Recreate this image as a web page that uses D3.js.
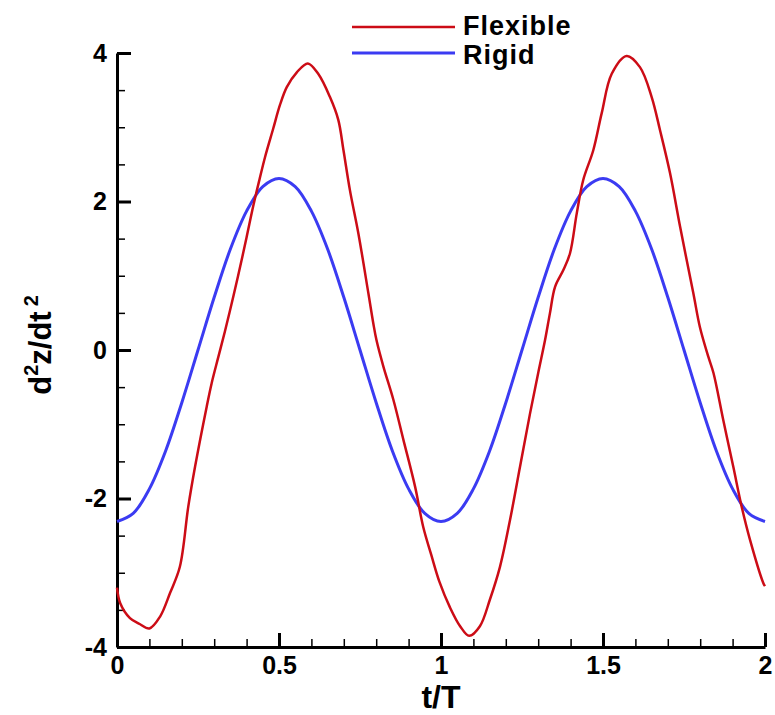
<!DOCTYPE html>
<html>
<head>
<meta charset="utf-8">
<script src="https://cdn.jsdelivr.net/npm/d3@7"></script>
<style>
  body { margin: 0; background: #fff; }
  text { font-family: "Liberation Sans", Arial, sans-serif; font-weight: bold; fill: #000; }
</style>
</head>
<body>
<svg id="chart" width="775" height="715"></svg>
<script>
// values: [t/T, d2z/dt2]
const flexible = [
  [0.000, -3.20], [0.010, -3.41], [0.040, -3.61], [0.070, -3.69], [0.100, -3.75],
  [0.133, -3.59], [0.164, -3.27], [0.194, -2.92], [0.220, -2.11], [0.241, -1.57],
  [0.277, -0.76], [0.292, -0.45], [0.313, -0.09], [0.333, 0.25], [0.359, 0.72],
  [0.380, 1.12], [0.400, 1.52], [0.421, 1.95], [0.440, 2.30], [0.457, 2.60],
  [0.482, 2.98], [0.503, 3.30], [0.524, 3.54], [0.555, 3.74], [0.589, 3.86],
  [0.621, 3.72], [0.657, 3.41], [0.683, 3.10], [0.699, 2.69], [0.719, 2.15],
  [0.745, 1.57], [0.776, 0.76], [0.791, 0.36], [0.801, 0.13], [0.822, -0.22],
  [0.853, -0.67], [0.884, -1.21], [0.920, -1.84], [0.945, -2.38], [0.970, -2.76],
  [0.995, -3.12], [1.028, -3.47], [1.059, -3.72], [1.087, -3.85], [1.120, -3.72],
  [1.151, -3.36], [1.182, -2.92], [1.213, -2.29], [1.244, -1.57], [1.275, -0.85],
  [1.300, -0.31], [1.321, 0.13], [1.336, 0.49], [1.352, 0.85], [1.378, 1.08],
  [1.398, 1.30], [1.419, 1.84], [1.439, 2.29], [1.470, 2.69], [1.496, 3.19],
  [1.527, 3.72], [1.573, 3.96], [1.614, 3.81], [1.650, 3.41], [1.676, 2.96],
  [1.707, 2.38], [1.738, 1.66], [1.779, 0.76], [1.799, 0.31], [1.825, -0.09],
  [1.841, -0.31], [1.871, -0.94], [1.902, -1.57], [1.928, -2.11], [1.954, -2.56],
  [1.995, -3.14], [2.000, -3.18]
];

const rigid = [
  [0.00, -2.31], [0.05, -2.20], [0.10, -1.87], [0.15, -1.36], [0.20, -0.71],
  [0.25, 0.00], [0.30, 0.71], [0.35, 1.36], [0.40, 1.87], [0.45, 2.20],
  [0.50, 2.31], [0.55, 2.20], [0.60, 1.87], [0.65, 1.36], [0.70, 0.71],
  [0.75, 0.00], [0.80, -0.71], [0.85, -1.36], [0.90, -1.87], [0.95, -2.20],
  [1.00, -2.31], [1.05, -2.20], [1.10, -1.87], [1.15, -1.36], [1.20, -0.71],
  [1.25, 0.00], [1.30, 0.71], [1.35, 1.36], [1.40, 1.87], [1.45, 2.20],
  [1.50, 2.31], [1.55, 2.20], [1.60, 1.87], [1.65, 1.36], [1.70, 0.71],
  [1.75, 0.00], [1.80, -0.71], [1.85, -1.36], [1.90, -1.87], [1.95, -2.20],
  [2.00, -2.31]
];

const xMajor = [0, 0.5, 1, 1.5, 2];
const yMajor = [-4, -2, 0, 2, 4];
const seriesNames = ['Flexible', 'Rigid'];

const red = '#cc0c16';
const blue = '#3b3bf2';

const plotLeft = 117, plotRight = 765, plotTop = 53, plotBottom = 647;

const svg = d3.select('#chart');

const xScale = d3.scaleLinear().domain([0, 2]).range([plotLeft, plotRight]);
const yScale = d3.scaleLinear().domain([-4, 4]).range([plotBottom, plotTop]);

const xMinor = d3.range(0, 2.0001, 0.1).filter(v => Math.abs(v * 2 - Math.round(v * 2)) > 1e-6);
const yMinor = d3.range(-4, 4.0001, 0.5).filter(v => Math.abs(v / 2 - Math.round(v / 2)) > 1e-6);

// minor ticks
svg.append('g')
    .attr('transform', `translate(0, ${plotBottom})`)
    .call(d3.axisBottom(xScale).tickValues(xMinor).tickSize(-8).tickFormat(''))
    .call(g => g.select('.domain').remove())
    .call(g => g.selectAll('line').attr('stroke-width', 1.5));

svg.append('g')
    .attr('transform', `translate(${plotLeft}, 0)`)
    .call(d3.axisLeft(yScale).tickValues(yMinor).tickSize(-8).tickFormat(''))
    .call(g => g.select('.domain').remove())
    .call(g => g.selectAll('line').attr('stroke-width', 1.5));

// major ticks and labels (plain hyphen for negatives)
const fmt = d => String(d);

const xAxis = svg.append('g')
    .attr('transform', `translate(0, ${plotBottom})`)
    .call(d3.axisBottom(xScale).tickValues(xMajor).tickSize(-14).tickSizeOuter(0).tickPadding(9)
        .tickFormat(fmt));

const yAxis = svg.append('g')
    .attr('transform', `translate(${plotLeft}, 0)`)
    .call(d3.axisLeft(yScale).tickValues(yMajor).tickSize(-14).tickSizeOuter(0).tickPadding(10)
        .tickFormat(fmt));

[xAxis, yAxis].forEach(g => {
    g.select('.domain').attr('stroke-width', 3);
    g.selectAll('.tick line').attr('stroke-width', 3);
    g.selectAll('.tick text')
        .style('font-size', '25px')
        .style('font-family', '"Liberation Sans", Arial, sans-serif')
        .style('font-weight', 'bold')
        .attr('fill', '#000');
});

// curves
const line = d3.line()
    .x(d => xScale(d[0]))
    .y(d => yScale(d[1]))
    .curve(d3.curveCatmullRom.alpha(0.5));

svg.append('path')
    .datum(rigid)
    .attr('d', line)
    .attr('fill', 'none')
    .attr('stroke', blue)
    .attr('stroke-width', 3);

svg.append('path')
    .datum(flexible)
    .attr('d', line)
    .attr('fill', 'none')
    .attr('stroke', red)
    .attr('stroke-width', 2.5);

// axis titles
svg.append('text')
    .attr('x', (plotLeft + plotRight) / 2)
    .attr('y', 708)
    .attr('text-anchor', 'middle')
    .style('font-size', '32px')
    .text('t/T');

const yTitle = svg.append('text')
    .attr('transform', `translate(51, 345) rotate(-90)`)
    .attr('text-anchor', 'middle')
    .style('font-size', '31px');
yTitle.append('tspan').text('d');
yTitle.append('tspan').attr('dy', -13).style('font-size', '20px').text('2');
yTitle.append('tspan').attr('dy', 13).text('z/dt');
yTitle.append('tspan').attr('dy', -13).attr('dx', 5).style('font-size', '20px').text('2');

// legend
const legend = svg.append('g');
[[seriesNames[0], red, 27, 2.5, 8], [seriesNames[1], blue, 53, 3, 11]].forEach(([name, color, ly, w, off]) => {
    legend.append('line')
        .attr('x1', 352).attr('x2', 455)
        .attr('y1', ly).attr('y2', ly)
        .attr('stroke', color)
        .attr('stroke-width', w);
    legend.append('text')
        .attr('x', 463)
        .attr('y', ly + off)
        .style('font-size', '27px')
        .style('letter-spacing', '1px')
        .text(name);
});
</script>
</body>
</html>
